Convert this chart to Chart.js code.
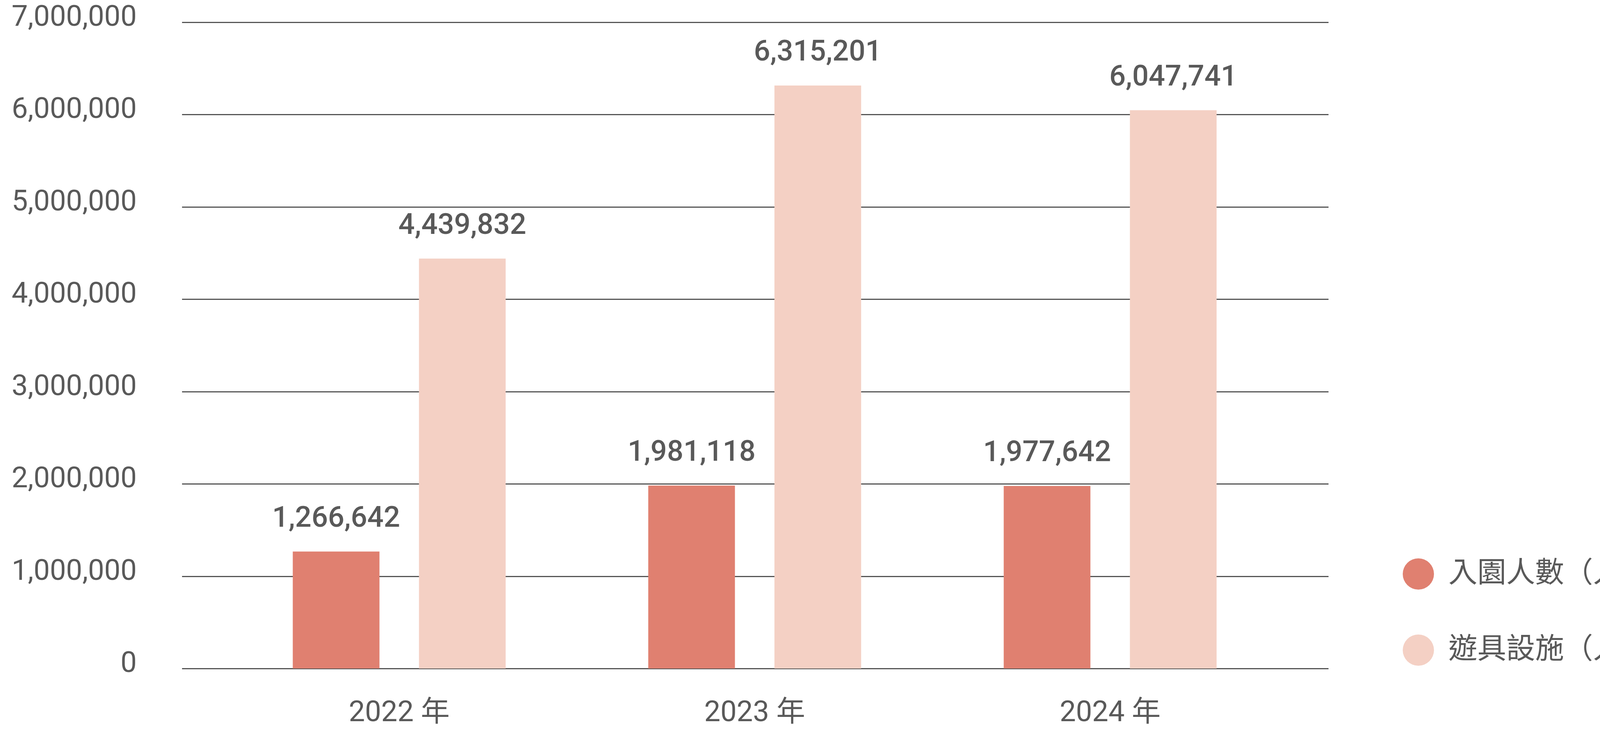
<!DOCTYPE html>
<html><head><meta charset="utf-8">
<script src="https://cdn.jsdelivr.net/npm/chart.js@4"></script>
<style>html,body{margin:0;padding:0;background:#fff}#w{width:4294px;height:1867px}</style>
</head><body><div id="w"><canvas id="c"></canvas></div>
<script>
const categories = ["2022 年", "2023 年", "2024 年"];
const visitors = [1266642, 1981118, 1977642];
const rides = [4439832, 6315201, 6047741];
const seriesNames = ["入園人數（人次）", "遊具設施（人次）"];
const colors = ["#E08070", "#F4D0C4"];
const TXT = "#595959";
const FONT = "Roboto, 'Noto Sans CJK TC', sans-serif";

const decor = {
  id: "decor",
  beforeDatasetsDraw(chart) {
    const ctx = chart.ctx, y = chart.scales.y;
    ctx.save();
    ctx.strokeStyle = "#555"; ctx.lineWidth = 3;
    ctx.fillStyle = TXT; ctx.font = "400 74px " + FONT;
    ctx.textAlign = "right"; ctx.textBaseline = "middle";
    y.ticks.forEach(t => {
      const py = Math.round(y.getPixelForValue(t.value)) + 0.5;
      ctx.beginPath(); ctx.moveTo(466, py); ctx.lineTo(3401, py); ctx.stroke();
      ctx.fillText(t.value.toLocaleString("en-US"), 350, py - 10);
    });
    ctx.restore();
  },
  afterDatasetsDraw(chart) {
    const ctx = chart.ctx;
    ctx.save();
    ctx.fillStyle = TXT;
    ctx.font = "500 74px " + FONT;
    ctx.textAlign = "center"; ctx.textBaseline = "middle";
    chart.data.datasets.forEach((ds, i) => {
      chart.getDatasetMeta(i).data.forEach((bar, j) => {
        ctx.fillText(ds.data[j].toLocaleString("en-US"), bar.x, bar.y - 82);
      });
    });
    ctx.font = "400 74px " + FONT;
    ctx.textAlign = "left";
    const ys = [1470, 1665];
    chart.data.datasets.forEach((ds, i) => {
      ctx.fillStyle = ds.backgroundColor;
      ctx.beginPath(); ctx.arc(3631, ys[i], 40, 0, Math.PI * 2); ctx.fill();
      ctx.fillStyle = TXT;
      ctx.fillText(ds.label, 3708, ys[i] + 2);
    });
    ctx.restore();
  }
};

new Chart(document.getElementById("c"), {
  type: "bar",
  data: {
    labels: categories,
    datasets: [
      { label: seriesNames[0], data: visitors, backgroundColor: colors[0] },
      { label: seriesNames[1], data: rides, backgroundColor: colors[1] }
    ]
  },
  options: {
    responsive: true, maintainAspectRatio: false, devicePixelRatio: 1, animation: false,
    layout: { padding: { top: 57, right: 997, left: 0, bottom: 0 } },
    datasets: { bar: { categoryPercentage: 0.71, barPercentage: 0.687 } },
    plugins: { legend: { display: false }, tooltip: { enabled: false } },
    scales: {
      x: {
        grid: { display: false, drawTicks: false }, border: { display: false },
        ticks: { color: TXT, font: { family: FONT, size: 74 }, padding: 72 },
        afterFit(s) { s.height = 155; }
      },
      y: {
        min: 0, max: 7000000,
        grid: { display: false, drawTicks: false }, border: { display: false },
        ticks: { stepSize: 1000000, display: false },
        afterFit(s) { s.width = 567; s.paddingTop = 0; s.paddingBottom = 0; }
      }
    }
  },
  plugins: [decor]
});
</script></body></html>
